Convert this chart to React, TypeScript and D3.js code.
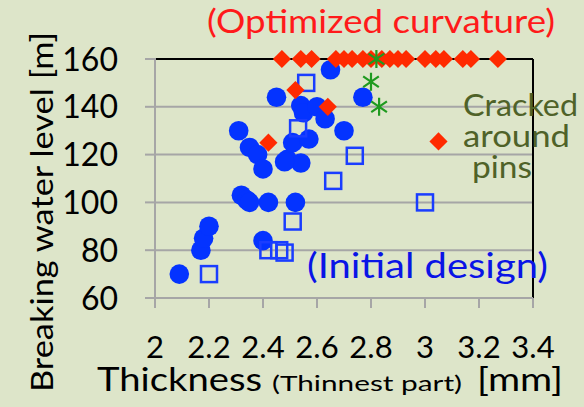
import React from "react";
import * as d3 from "d3";

// Thickness [mm] vs breaking water level [m]
const initialX = [2.09, 2.17, 2.18, 2.2, 2.31, 2.32, 2.34, 2.35, 2.35, 2.38, 2.4, 2.4, 2.42, 2.45, 2.49, 2.51, 2.52, 2.54, 2.54, 2.55, 2.57, 2.6, 2.63, 2.65, 2.7, 2.77, 2.48];
const initialY = [70, 80, 85, 90, 130, 103, 101, 100, 123, 120, 114, 84, 100, 144, 118, 125, 100, 116.5, 140.5, 137.5, 126.5, 140, 135, 155.5, 130, 144, 117];

const openX = [2.2, 2.42, 2.46, 2.48, 2.51, 2.53, 2.56, 2.66, 2.74, 3.0];
const openY = [70, 80, 80, 79, 92, 131, 150, 109, 119.5, 100];

const optimizedX = [2.47, 2.54, 2.58, 2.67, 2.7, 2.73, 2.77, 2.8, 2.84, 2.87, 2.9, 2.93, 3.0, 3.04, 3.07, 3.14, 3.17, 3.27, 2.42, 2.52, 2.64, 3.05];
const optimizedY = [160, 160, 160, 160, 160, 160, 160, 160, 160, 160, 160, 160, 160, 160, 160, 160, 160, 160, 125, 147, 140, 125.5];

const crackedX = [2.82, 2.8, 2.83];
const crackedY = [160, 150.5, 140];

const xTicks = [2, 2.2, 2.4, 2.6, 2.8, 3, 3.2, 3.4];
const yTicks = [60, 80, 100, 120, 140, 160];

const W = 584;
const H = 407;
const FONT = "Lato, 'Open Sans', sans-serif";

export default function App() {
  const x = d3.scaleLinear().domain([2, 3.4]).range([155, 533]);
  const y = d3.scaleLinear().domain([60, 160]).range([298, 59]);

  const initial = initialX.map((v, i) => ({ x: v, y: initialY[i] }));
  const open = openX.map((v, i) => ({ x: v, y: openY[i] }));
  const optimized = optimizedX.map((v, i) => ({ x: v, y: optimizedY[i] }));
  const cracked = crackedX.map((v, i) => ({ x: v, y: crackedY[i] }));

  const diamond = d3.symbol().type(d3.symbolSquare).size(165)();
  const star = (cx: number, cy: number, r: number) => {
    const p = d3.path();
    p.moveTo(cx, cy - r);
    p.lineTo(cx, cy + r);
    const dx = r * 0.87;
    const dy = r * 0.6;
    p.moveTo(cx - dx, cy - dy);
    p.lineTo(cx + dx, cy + dy);
    p.moveTo(cx + dx, cy - dy);
    p.lineTo(cx - dx, cy + dy);
    return p.toString();
  };

  return (
    <svg
      width={W}
      height={H}
      style={{ position: "absolute", left: 0, top: 0, background: "#dde5c9" }}
    >
      <rect x={0} y={0} width={W} height={H} fill="#dde5c9" />

      {/* grid */}
      {yTicks.filter((t) => t !== 60 && t !== 160).map((t) => (
        <line key={t} x1={x(2)} x2={x(3.4)} y1={y(t)} y2={y(t)} stroke="#a6a6a6" strokeWidth={2} />
      ))}
      {/* frame */}
      <line x1={x(2)} x2={x(3.4)} y1={y(160)} y2={y(160)} stroke="#000" strokeWidth={2} />
      <line x1={x(3.4)} x2={x(3.4)} y1={y(160)} y2={y(60)} stroke="#000" strokeWidth={2} />
      {/* axes */}
      <line x1={x(2)} x2={x(3.4)} y1={y(60)} y2={y(60)} stroke="#a6a6a6" strokeWidth={2} />
      <line x1={x(2)} x2={x(2)} y1={y(160) - 1} y2={y(60) + 10} stroke="#a6a6a6" strokeWidth={2} />
      {yTicks.map((t) => (
        <g key={t}>
          <line x1={x(2) - 10} x2={x(2)} y1={y(t)} y2={y(t)} stroke="#a6a6a6" strokeWidth={2} />
          <text x={118} y={y(t)} dy="0.36em" textAnchor="end" fontFamily={FONT} fontSize={32} fill="#000">
            {t}
          </text>
        </g>
      ))}
      {xTicks.map((t) => (
        <g key={t}>
          <line x1={x(t)} x2={x(t)} y1={y(60)} y2={y(60) + 10} stroke="#a6a6a6" strokeWidth={2} />
          <text x={x(t)} y={358} textAnchor="middle" fontFamily={FONT} fontSize={31} fill="#000">
            {t}
          </text>
        </g>
      ))}

      {/* initial design: filled circles */}
      {initial.map((d, i) => (
        <circle key={i} cx={x(d.x)} cy={y(d.y)} r={9.8} fill="#0433ff" />
      ))}
      {/* open squares */}
      {open.map((d, i) => (
        <rect key={i} x={x(d.x) - 8} y={y(d.y) - 8} width={16} height={16} fill="none" stroke="#1a3dff" strokeWidth={2.5} />
      ))}
      {/* optimized curvature: diamonds */}
      {optimized.map((d, i) => (
        <path key={i} d={diamond} transform={`translate(${x(d.x)},${y(d.y)}) rotate(45)`} fill="#ff2a00" />
      ))}
      {/* cracked around pins: stars */}
      {cracked.map((d, i) => (
        <path key={i} d={star(x(d.x), y(d.y), 9)} stroke="#1f9a1f" strokeWidth={2.2} fill="none" />
      ))}

      {/* annotations */}
      <text x={207} y={33} textLength={348} lengthAdjust="spacingAndGlyphs" fontFamily={FONT} fontSize={33} fill="#ff1a1a">
        (Optimized curvature)
      </text>
      <text x={463} y={116} textLength={115} lengthAdjust="spacingAndGlyphs" fontFamily={FONT} fontSize={31} fill="#4f6228">
        Cracked
      </text>
      <text x={463} y={147} textLength={107} lengthAdjust="spacingAndGlyphs" fontFamily={FONT} fontSize={31} fill="#4f6228">
        around
      </text>
      <text x={472} y={178} textLength={60} lengthAdjust="spacingAndGlyphs" fontFamily={FONT} fontSize={31} fill="#4f6228">
        pins
      </text>
      <text x={307} y={278} textLength={241} lengthAdjust="spacingAndGlyphs" fontFamily={FONT} fontSize={35} fill="#0a14e6">
        (Initial design)
      </text>

      {/* axis titles */}
      <text
        transform={`translate(53,212) rotate(-90)`}
        textAnchor="middle"
        textLength={360}
        lengthAdjust="spacingAndGlyphs"
        fontFamily={FONT}
        fontSize={31}
        fill="#000"
      >
        Breaking water level [m]
      </text>
      <text x={97} y={391} textLength={165} lengthAdjust="spacingAndGlyphs" fontFamily={FONT} fontSize={32} fill="#000">
        Thickness
      </text>
      <text x={272} y={391} textLength={190} lengthAdjust="spacingAndGlyphs" fontFamily={FONT} fontSize={22} fill="#000">
        (Thinnest part)
      </text>
      <text x={477} y={391} textLength={86} lengthAdjust="spacingAndGlyphs" fontFamily={FONT} fontSize={32} fill="#000">
        [mm]
      </text>
    </svg>
  );
}
